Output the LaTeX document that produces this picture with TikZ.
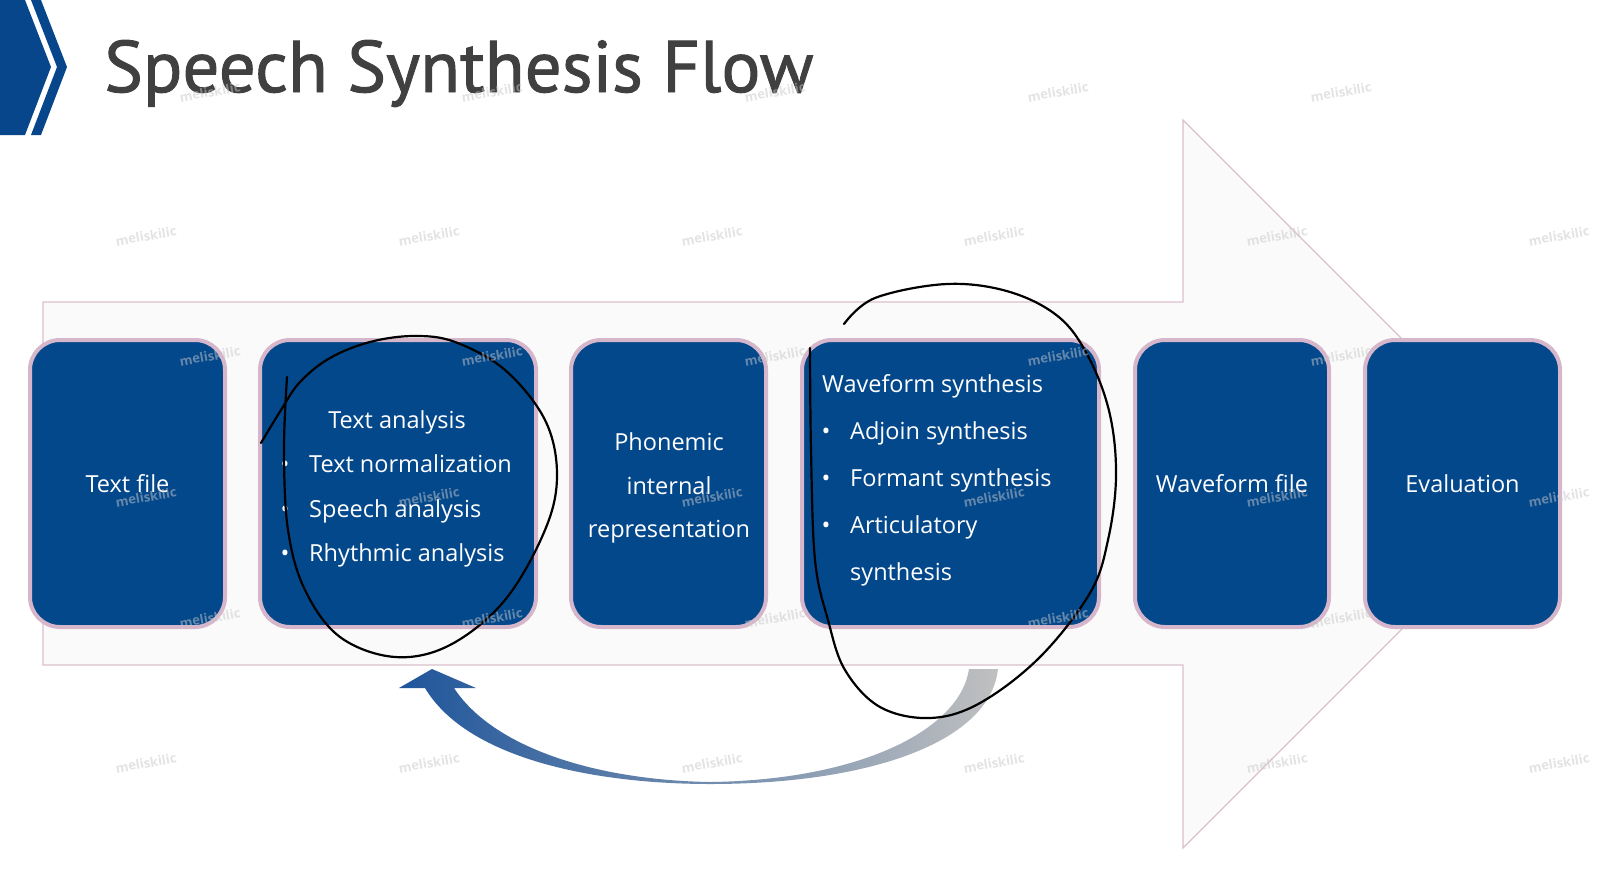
\documentclass[tikz,border=0pt]{standalone}
\usepackage{fontspec}
\setmainfont{Open Sans}
\newfontfamily\headfont[FakeBold=1.3]{PT Sans}
\newcommand\boxtxt{\fontsize{23.5}{28}\selectfont}
\definecolor{boxblue}{RGB}{4,72,140}
\definecolor{boxrim}{RGB}{214,182,202}
\definecolor{flowfill}{RGB}{250,250,251}
\definecolor{flowrim}{RGB}{220,192,206}
\definecolor{headgray}{RGB}{64,64,64}
\definecolor{chevblue}{RGB}{8,70,140}
\definecolor{fbblue}{RGB}{30,85,155}
\definecolor{fbpink}{RGB}{236,214,224}
\definecolor{fbgray}{RGB}{192,192,192}
\definecolor{wmgray}{RGB}{200,200,200}
\begin{document}
\begin{tikzpicture}[x=1pt,y=-1pt,
  box/.style={draw=boxrim, line width=4pt, fill=boxblue, rounded corners=30pt,
    minimum height=287pt, inner sep=0pt, text=white, font=\boxtxt},
  lbl/.style={text=white, inner sep=0pt, font=\boxtxt},
  wm/.style={text=wmgray, text opacity=0.5, font=\bfseries\fontsize{13}{15}\selectfont,
    rotate=10, inner sep=0pt},
  hand/.style={draw=black, line width=2.2pt, line cap=round, line join=round}
]
\useasboundingbox (0,0) rectangle (1606,873);
\fill[white] (0,0) rectangle (1606,873);

% header chevron and title
\fill[chevblue] (0,0) -- (25,0) -- (51,67) -- (25,135) -- (0,135) -- cycle;
\fill[chevblue] (31,0) -- (41,0) -- (67,67) -- (41,135) -- (31,135) -- (57,67) -- cycle;
\node[anchor=base west, inner sep=0pt, text=headgray,
  font=\headfont\fontsize{73}{84}\selectfont] (title) at (104,92) {Speech Synthesis Flow};

% large background arrow
\filldraw[fill=flowfill, draw=flowrim, line width=1.2pt]
  (43,302) -- (1183,302) -- (1183,120) -- (1547,484) -- (1183,848) -- (1183,665) -- (43,665) -- cycle;

% process boxes
\node[box, minimum width=195pt] (b1) at (127.5,483.5) {Text file};
\node[box, minimum width=276pt] (b2) at (398,483.5) {};
\node[box, minimum width=195pt] (b3) at (668.5,483.5) {};
\node[box, minimum width=297pt] (b4) at (950.5,483.5) {};
\node[box, minimum width=194pt] (b5) at (1232,483.5) {Waveform file};
\node[box, minimum width=195pt] (b6) at (1462.5,483.5) {Evaluation};

% text analysis
\node[lbl, anchor=base] (ta) at (397,428) {Text analysis};
\node[lbl, anchor=base west] (ta1) at (309,472) {Text normalization};
\node[lbl, anchor=base west] (ta2) at (309,517) {Speech analysis};
\node[lbl, anchor=base west] (ta3) at (309,561) {Rhythmic analysis};
\node[lbl, anchor=base] (tb1) at (285,472) {•};
\node[lbl, anchor=base] (tb2) at (285,517) {•};
\node[lbl, anchor=base] (tb3) at (285,561) {•};

% phonemic representation
\node[lbl, anchor=base] (ph1) at (669,450) {Phonemic};
\node[lbl, anchor=base] (ph2) at (669,494) {internal};
\node[lbl, anchor=base] (ph3) at (669,537) {representation};

% waveform synthesis
\node[lbl, anchor=base west] (ws) at (822,392) {Waveform synthesis};
\node[lbl, anchor=base west] (ws1) at (850,439) {Adjoin synthesis};
\node[lbl, anchor=base west] (ws2) at (850,486) {Formant synthesis};
\node[lbl, anchor=base west] (ws3) at (850,533) {Articulatory};
\node[lbl, anchor=base west] (ws4) at (850,580) {synthesis};
\node[lbl, anchor=base] (wb1) at (826,439) {•};
\node[lbl, anchor=base] (wb2) at (826,486) {•};
\node[lbl, anchor=base] (wb3) at (826,533) {•};

% feedback arrow below the flow
\shade[left color=fbblue, middle color=fbpink, right color=fbgray]
  (399,688) -- (432,669) -- (476,688) -- (454,688)
  .. controls (492,746) and (592,780) .. (710,782)
  .. controls (860,780) and (960,730) .. (969,669)
  -- (998,669)
  .. controls (990,742) and (870,784) .. (710,784)
  .. controls (598,784) and (468,760) .. (425,688) -- cycle;

% hand-drawn marks
\draw[hand] plot[smooth, tension=0.6] coordinates {(287,377) (284,450) (288,530) (305,590)
  (340,637) (395,657) (450,645) (505,600) (545,530) (557,475) (545,420) (505,370)
  (455,342) (414,336) (370,342) (330,358) (300,382) (281,410) (261,443)};
\draw[hand] plot[smooth, tension=0.6] coordinates {(844,324) (875,298) (947,284) (1010,292)
  (1060,318) (1090,360) (1110,415) (1116,477) (1108,540) (1090,593) (1040,657)
  (980,703) (930,718) (880,707) (845,670) (828,620) (815,560) (811,450) (810,348)};

% watermark
\foreach \px/\py [count=\i] in {210/92,492/92,775/92,1058/92,1341/92,
    146/236,429/236,712/236,994/236,1277/236,1559/236,
    210/356,492/356,775/356,1058/356,1341/356,
    146/497,429/497,712/497,994/497,1277/497,1559/497,
    210/618,492/618,775/618,1058/618,1341/618,
    146/763,429/763,712/763,994/763,1277/763,1559/763}
  \node[wm] (wm\i) at (\px,\py) {meliskilic};
\end{tikzpicture}
\end{document}
